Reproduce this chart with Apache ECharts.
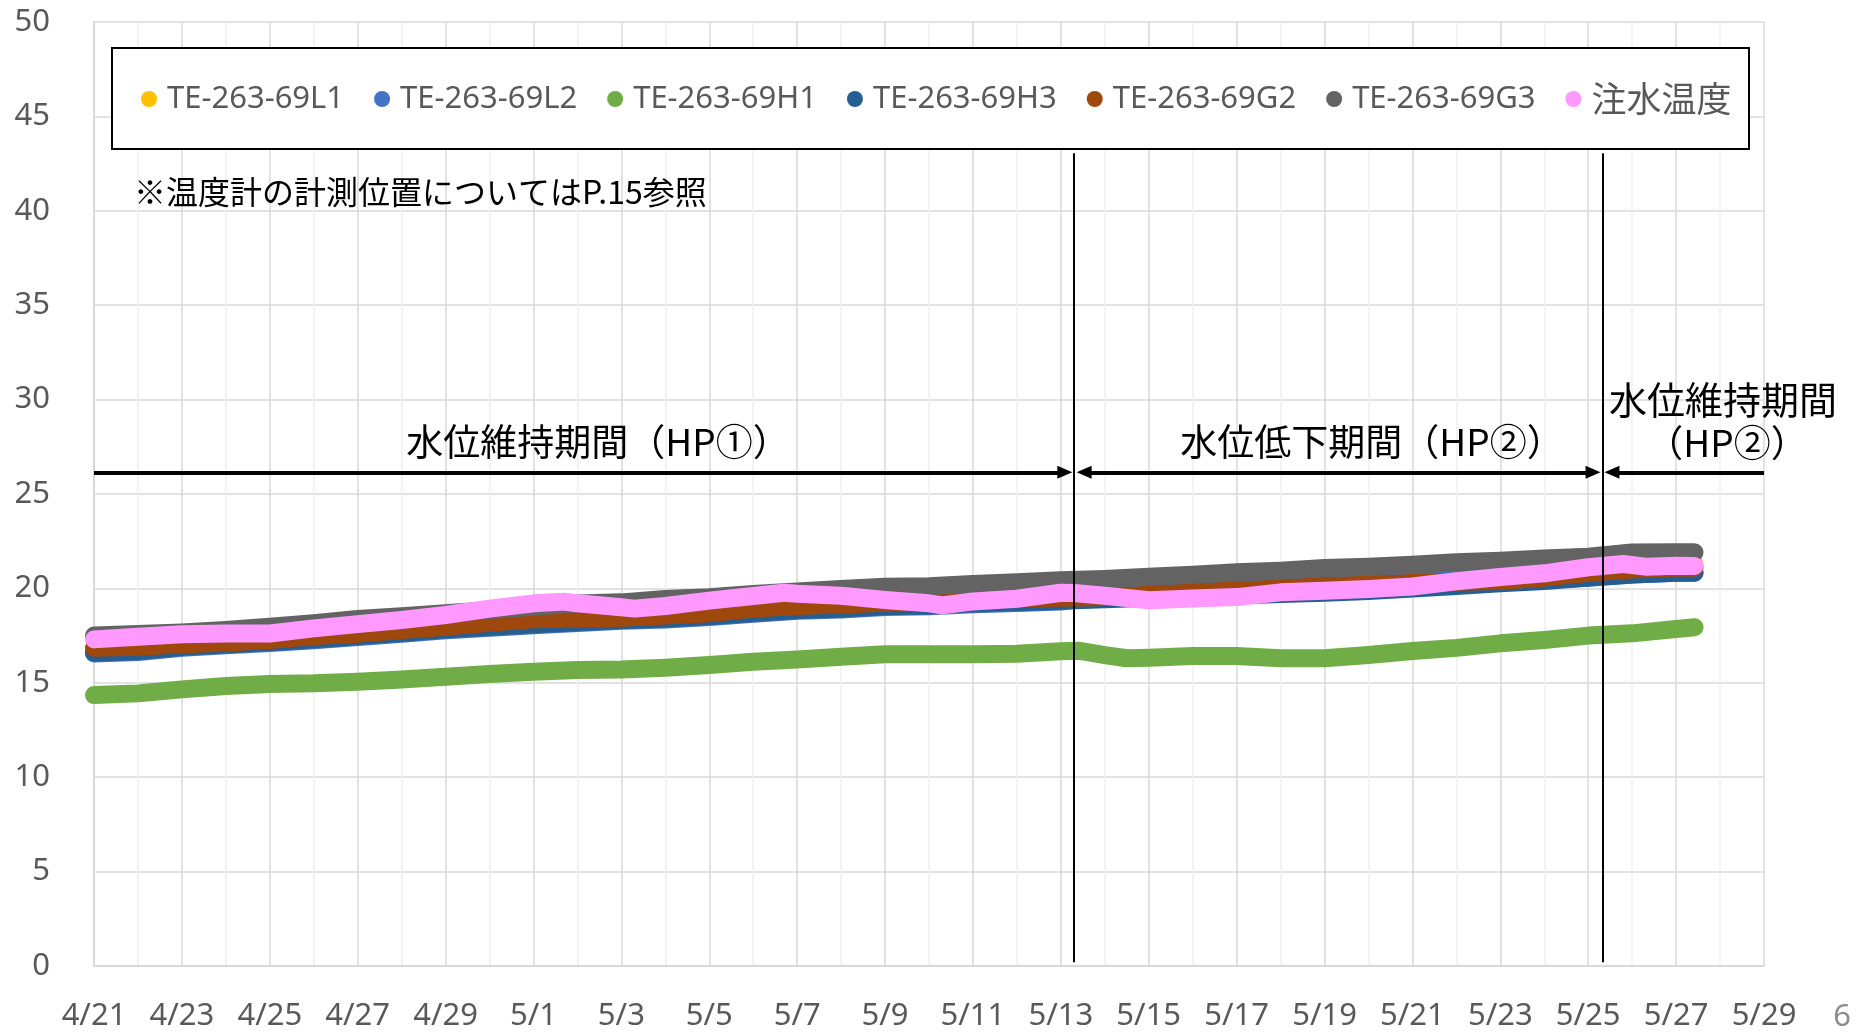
<!DOCTYPE html>
<html>
<head>
<meta charset="utf-8">
<script src="https://cdn.jsdelivr.net/npm/echarts@6/dist/echarts.min.js"></script>
<style>
  html, body { margin: 0; padding: 0; background: #ffffff; }
  #chart { width: 1861px; height: 1032px; }
</style>
</head>
<body>
<div id="chart"></div>
<script>
// x values are days elapsed since 4/21 (00:00)
const startDate = [2000, 3, 21];

// daily samples shared by most sensors (last point: 5/27 ~10:00)
const days = [0,1,2,3,4,5,6,7,8,9,10,11,12,13,14,15,16,17,18,19,20,21,22,23,24,25,26,27,28,29,30,31,32,33,34,35,36,36.42];

const tempL1 = [16.76,16.81,16.94,17.02,17.17,17.38,17.5,17.7,17.87,18.08,18.26,18.31,18.35,18.47,18.58,18.83,18.97,19.05,19.14,19.2,19.32,19.38,19.45,
                20.0,20.12,20.23,20.35,20.44,20.58,20.65,20.75,20.88,20.97,21.05,21.15,21.3,21.3,21.3];
const tempL2 = [16.55,16.63,16.86,16.99,17.11,17.25,17.43,17.6,17.78,17.92,18.05,18.17,18.28,18.35,18.49,18.66,18.81,18.88,19.02,19.05,19.16,19.23,19.3,
                19.63,19.75,19.86,19.98,20.07,20.21,20.28,20.38,20.51,20.6,20.45,20.57,20.74,20.83,20.83];
const tempH3 = [16.6,16.68,16.91,17.04,17.16,17.3,17.48,17.65,17.83,17.97,18.1,18.22,18.33,18.4,18.54,18.71,18.86,18.93,19.07,19.1,19.21,19.28,19.35,
                19.42,19.5,19.56,19.62,19.7,19.77,19.86,20.0,20.13,20.27,20.39,20.57,20.74,20.83,20.83];
const tempG2 = [16.86,16.91,17.04,17.12,17.27,17.48,17.6,17.8,17.97,18.18,18.36,18.41,18.45,18.57,18.68,18.93,19.07,19.15,19.24,19.3,19.42,19.48,19.5,
                19.55,19.67,19.78,19.9,19.99,20.13,20.2,20.28,20.35,20.39,20.57,20.83,21.0,21.1,21.1];
const tempG3 = [17.5,17.58,17.67,17.8,17.97,18.15,18.38,18.52,18.68,18.85,19.03,19.2,19.26,19.44,19.53,19.7,19.84,19.97,20.09,20.12,20.23,20.32,20.43,
                20.5,20.62,20.73,20.85,20.94,21.08,21.15,21.25,21.38,21.47,21.58,21.68,21.9,21.91,21.91];

// H1 has a few extra samples around the 5/13 drop
const daysH1 = [0,1,2,3,4,5,6,7,8,9,10,11,12,13,14,15,16,17,18,19,20,21,22,22.4,23,23.5,24,25,26,27,28,29,30,31,32,33,34,35,36,36.42];
const tempH1 = [14.35,14.44,14.65,14.83,14.94,14.97,15.06,15.18,15.32,15.47,15.59,15.68,15.7,15.8,15.94,16.12,16.24,16.38,16.51,16.51,16.51,16.54,16.67,
                16.7,16.47,16.3,16.33,16.42,16.42,16.3,16.3,16.47,16.68,16.85,17.09,17.27,17.5,17.62,17.85,17.94];

// injection water temperature, with extra samples at its dips and peaks
const daysInj = [0,1,2,3,4,5,6,7,8,9,10,10.7,11,12,12.3,13,14,15,15.7,16,17,18,19,19.3,20,21,22,22.3,23,24,25,26,27,28,29,30,31,32,33,34,34.8,35.3,36,36.42];
const tempInj = [17.3,17.44,17.57,17.61,17.61,17.88,18.11,18.33,18.59,18.93,19.21,
                 19.3,19.21,19.0,18.93,19.07,19.35,19.6,19.77,19.72,19.61,19.39,19.21,19.1,19.31,19.45,19.77,19.76,19.61,
                 19.37,19.47,19.54,19.79,19.88,19.97,20.1,20.38,20.6,20.8,21.12,
                 21.29,21.15,21.2,21.19];

const seriesNames = ['TE-263-69L1','TE-263-69L2','TE-263-69H1','TE-263-69H3','TE-263-69G2','TE-263-69G3','注水温度'];
const seriesColors = ['#FFC000','#4472C4','#70AD47','#255E91','#9E480E','#636363','#FF99FF'];

// period boundaries (days since 4/21): 5/13 07:00 and 5/25 08:00
const phaseChanges = [22.3, 34.33];
const arrowLevel = 26.15;
const dividerRange = [0.2, 43.05];
const axisDays = [0, 38];

function pairs(xs, ys) { return xs.map((x, i) => [x, ys[i]]); }
function dayLabel(v) {
  const d = new Date(startDate[0], startDate[1], startDate[2] + v);
  return (d.getMonth() + 1) + '/' + d.getDate();
}

const seriesData = [
  pairs(days, tempL1), pairs(days, tempL2), pairs(daysH1, tempH1), pairs(days, tempH3),
  pairs(days, tempG2), pairs(days, tempG3), pairs(daysInj, tempInj)
];

const LATIN = 'Noto Sans';
const CJK = 'Noto Sans CJK JP';
const black = { color: '#000000', type: 'solid' };

const markLines = {
  silent: true,
  animation: false,
  symbol: 'none',
  label: { show: false },
  emphasis: { disabled: true },
  lineStyle: { color: '#000000', type: 'solid', width: 4 },
  data: [
    // period dividers
    [{ coord: [phaseChanges[0], dividerRange[0]], lineStyle: Object.assign({ width: 2 }, black) },
     { coord: [phaseChanges[0], dividerRange[1]] }],
    [{ coord: [phaseChanges[1], dividerRange[0]], lineStyle: Object.assign({ width: 2 }, black) },
     { coord: [phaseChanges[1], dividerRange[1]] }],
    // period arrows
    [{ coord: [axisDays[0], arrowLevel], symbol: 'none', lineStyle: Object.assign({ width: 4 }, black) },
     { coord: [phaseChanges[0] - 0.21, arrowLevel], symbol: 'triangle', symbolSize: [13, 15] }],
    [{ coord: [phaseChanges[0] + 0.23, arrowLevel], symbol: 'triangle', symbolSize: [13, 15], lineStyle: Object.assign({ width: 4 }, black) },
     { coord: [phaseChanges[1] - 0.22, arrowLevel], symbol: 'triangle', symbolSize: [13, 15] }],
    [{ coord: [phaseChanges[1] + 0.21, arrowLevel], symbol: 'triangle', symbolSize: [13, 15], lineStyle: Object.assign({ width: 4 }, black) },
     { coord: [axisDays[1], arrowLevel], symbol: 'none' }]
  ]
};

const series = seriesNames.map((name, i) => ({
  name: name,
  type: 'line',
  data: seriesData[i],
  showSymbol: false,
  symbol: 'circle',
  color: seriesColors[i],
  itemStyle: { color: seriesColors[i] },
  lineStyle: { color: seriesColors[i], width: 18, cap: 'round', join: 'round' },
  emphasis: { disabled: true },
  animation: false,
  z: 2 + i * 0.01,
  markLine: i === seriesNames.length - 1 ? markLines : undefined
}));

const chart = echarts.init(document.getElementById('chart'), null, { renderer: 'canvas' });
chart.setOption({
  animation: false,
  backgroundColor: '#ffffff',
  grid: { left: 94, right: 97, top: 22, bottom: 66, containLabel: false },
  xAxis: {
    type: 'value',
    min: axisDays[0],
    max: axisDays[1],
    interval: 2,
    axisLine: { show: true, lineStyle: { color: '#D9D9D9', width: 2 } },
    axisTick: { show: false },
    axisLabel: { formatter: dayLabel, color: '#595959', fontSize: 31, fontFamily: LATIN, margin: 35 },
    splitLine: { show: true, lineStyle: { color: '#D9D9D9', width: 1.5 } },
    minorTick: { show: false, splitNumber: 2 },
    minorSplitLine: { show: true, lineStyle: { color: '#EFEFEF', width: 1.5 } }
  },
  yAxis: {
    type: 'value',
    min: 0,
    max: 50,
    interval: 5,
    axisLine: { show: true, lineStyle: { color: '#D9D9D9', width: 2 } },
    axisTick: { show: false },
    axisLabel: { color: '#595959', fontSize: 31, fontFamily: LATIN, margin: 44 },
    splitLine: { show: true, lineStyle: { color: '#D9D9D9', width: 1.5 } }
  },
  legend: {
    data: seriesNames,
    left: 141,
    top: 81,
    padding: 0,
    icon: 'circle',
    itemWidth: 16,
    itemHeight: 16,
    itemGap: 30,
    selectedMode: false,
    formatter: name => /[^\x00-\x7F]/.test(name) ? '{cjk|' + name + '}' : name,
    textStyle: {
      color: '#595959', fontSize: 31, fontFamily: LATIN, lineHeight: 36, padding: [0, 0, 0, 5],
      rich: { cjk: { color: '#595959', fontSize: 35, fontFamily: CJK, lineHeight: 36 } }
    },
    z: 6
  },
  graphic: [
    { type: 'rect', z: 5, silent: true,
      shape: { x: 112, y: 48, width: 1637, height: 101 },
      style: { fill: '#ffffff', stroke: '#000000', lineWidth: 2 } },
    { type: 'text', z: 5, silent: true, left: 134, top: 176,
      style: { text: '※温度計の計測位置についてはP.15参照', fill: '#000000', font: '32px "Noto Sans CJK JP"' } },
    { type: 'text', z: 5, silent: true, x: 598, y: 442,
      style: { text: '水位維持期間（HP①）', fill: '#000000', font: '37px "Noto Sans CJK JP"', align: 'center', verticalAlign: 'middle' } },
    { type: 'text', z: 5, silent: true, x: 1372, y: 442,
      style: { text: '水位低下期間（HP②）', fill: '#000000', font: '37px "Noto Sans CJK JP"', align: 'center', verticalAlign: 'middle' } },
    { type: 'text', z: 5, silent: true, x: 1723, y: 400,
      style: { text: '水位維持期間', fill: '#000000', font: '38px "Noto Sans CJK JP"', align: 'center', verticalAlign: 'middle' } },
    { type: 'text', z: 5, silent: true, x: 1727, y: 443,
      style: { text: '（HP②）', fill: '#000000', font: '37px "Noto Sans CJK JP"', align: 'center', verticalAlign: 'middle' } },
    { type: 'text', z: 5, silent: true, x: 1842, y: 1017,
      style: { text: '6', fill: '#8C8C8C', font: '31px "Noto Sans"', align: 'center', verticalAlign: 'middle' } }
  ],
  series: series
});
</script>
</body>
</html>
